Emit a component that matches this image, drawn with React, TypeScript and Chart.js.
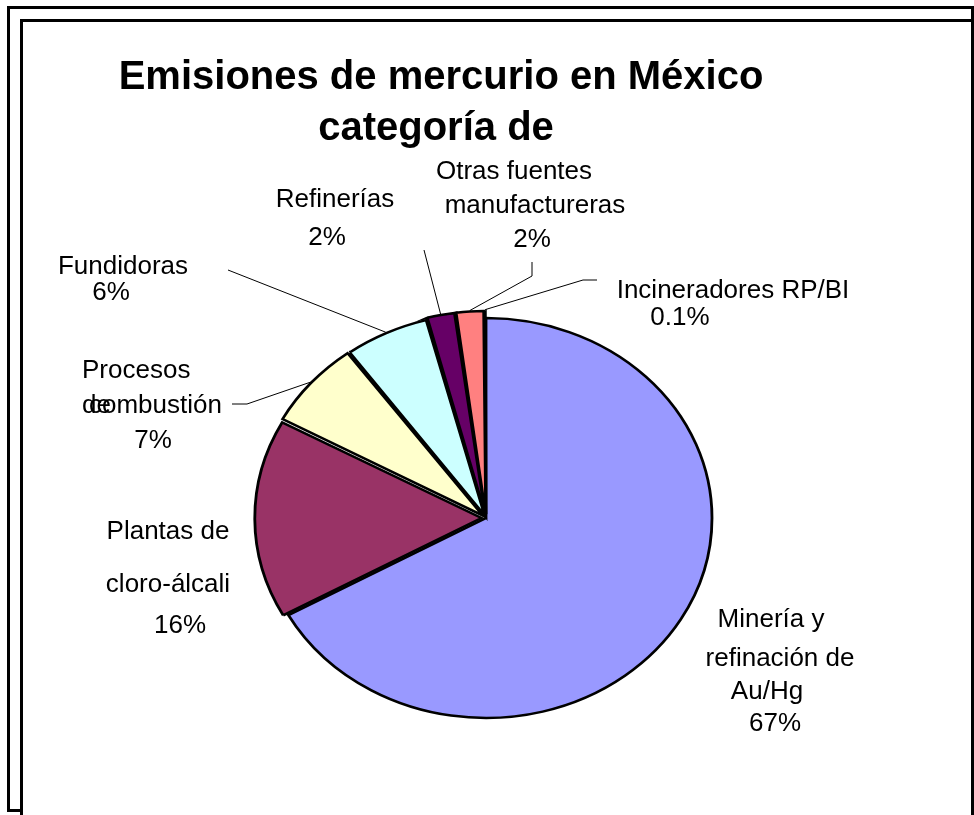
import { useEffect, useRef } from "react";
import { Chart, registerables } from "chart.js";

Chart.register(...registerables);

const categories = [
  "Minería y refinación de Au/Hg",
  "Plantas de cloro-álcali",
  "Procesos de combustión",
  "Fundidoras",
  "Refinerías",
  "Otras fuentes manufactureras",
  "Incineradores RP/BI",
];
const values = [67, 16, 7, 6, 2, 2, 0.1];
const percentLabels = ["67%", "16%", "7%", "6%", "2%", "2%", "0.1%"];
const labelLines = [
  ["Minería y", "refinación de", "Au/Hg"],
  ["Plantas de", "cloro-álcali"],
  ["Procesos", "de", "combustión"],
  ["Fundidoras"],
  ["Refinerías"],
  ["Otras fuentes", "manufactureras"],
  ["Incineradores RP/BI"],
];
const titleLines = ["Emisiones de mercurio en México", "categoría de"];

const colors = ["#9999FF", "#993366", "#FFFFCC", "#CCFFFF", "#660066", "#FF8080", "#0066CC"];
// explosion amount in pixels (Chart.js 4 draws arc offset / 4)
const explode = [0, 4, 3.5, 3, 3.7, 3.7, 3.7];

// layout of label text (x, baseline y, align) per line; last entry is the percentage
type Pos = [number, number, CanvasTextAlign];
const labelPos: Pos[][] = [
  [[771, 627, "center"], [780, 666, "center"], [767, 699, "center"], [775, 731, "center"]],
  [[168, 539, "center"], [168, 592, "center"], [180, 633, "center"]],
  [[82, 378, "left"], [82, 413, "left"], [89, 413, "left"], [153, 448, "center"]],
  [[123, 274, "center"], [111, 300, "center"]],
  [[335, 207, "center"], [327, 245, "center"]],
  [[514, 179, "center"], [535, 213, "center"], [532, 247, "center"]],
  [[733, 298, "center"], [680, 325, "center"]],
];
const leaderStarts: (number[][] | null)[] = [
  null,
  null,
  [[232, 404], [247, 404]],
  [[228, 270]],
  [[424, 250]],
  [[532, 262], [532, 276]],
  [[597, 280], [583, 280]],
];

const SX = 1.13;
const FONT = "'Liberation Sans', Arial, Helvetica, sans-serif";

const ellipsePlugin = {
  id: "ellipse",
  beforeDatasetsDraw(chart: any) {
    const a = chart.getDatasetMeta(0).data[0];
    const ctx = chart.ctx;
    ctx.save();
    ctx.translate(a.x, a.y);
    ctx.scale(SX, 1);
    ctx.translate(-a.x, -a.y);
  },
  afterDatasetsDraw(chart: any) {
    chart.ctx.restore();
  },
};

const labelPlugin = {
  id: "labels",
  afterDraw(chart: any) {
    const ctx: CanvasRenderingContext2D = chart.ctx;
    const meta = chart.getDatasetMeta(0);
    ctx.save();
    // title
    ctx.fillStyle = "#000";
    ctx.font = `bold 40px ${FONT}`;
    ctx.textAlign = "center";
    ctx.textBaseline = "alphabetic";
    ctx.fillText(titleLines[0], 441, 89);
    ctx.fillText(titleLines[1], 436, 140);

    // leader lines
    ctx.strokeStyle = "#000";
    ctx.lineWidth = 1;
    meta.data.forEach((arc: any, i: number) => {
      const starts = leaderStarts[i];
      if (!starts) return;
      const mid = (arc.startAngle + arc.endAngle) / 2;
      const circ = arc.endAngle - arc.startAngle;
      const fix = 1 - Math.sin(Math.min(Math.PI, circ));
      const r = arc.outerRadius + explode[i] * (1 + fix) + 1;
      const ex = arc.x + Math.cos(mid) * r * SX;
      const ey = arc.y + Math.sin(mid) * r;
      ctx.beginPath();
      ctx.moveTo(starts[0][0], starts[0][1]);
      for (let k = 1; k < starts.length; k++) ctx.lineTo(starts[k][0], starts[k][1]);
      ctx.lineTo(ex, ey);
      ctx.stroke();
    });

    // labels
    ctx.font = `26px ${FONT}`;
    labelLines.forEach((lines, i) => {
      const texts = [...lines, percentLabels[i]];
      texts.forEach((t, k) => {
        const p = labelPos[i][k];
        ctx.textAlign = p[2];
        ctx.fillText(t, p[0], p[1]);
      });
    });
    ctx.restore();
  },
};

export default function App() {
  const ref = useRef<HTMLCanvasElement>(null);
  useEffect(() => {
    if (!ref.current) return;
    const chart = new Chart(ref.current, {
      type: "pie",
      data: {
        labels: categories,
        datasets: [
          {
            data: values,
            backgroundColor: colors,
            borderColor: "#000",
            borderWidth: 2.5,
            borderJoinStyle: "miter",
            offset: explode.map((e) => e * 4),
          } as any,
        ],
      },
      options: {
        animation: false,
        responsive: false,
        events: [],
        radius: 200,
        layout: { padding: { left: 100, right: 102, top: 300, bottom: 79 } },
        plugins: {
          legend: { display: false },
          tooltip: { enabled: false },
          title: { display: false },
        },
      } as any,
      plugins: [ellipsePlugin, labelPlugin],
    });
    return () => chart.destroy();
  }, []);

  return (
    <div
      style={{
        position: "fixed",
        left: 0,
        top: 0,
        width: 974,
        height: 815,
        overflow: "hidden",
        background: "#fff",
      }}
    >
      <div
        style={{
          position: "absolute",
          left: 7,
          top: 6,
          width: 967,
          height: 806,
          border: "3px solid #000",
          boxSizing: "border-box",
        }}
      />
      <div
        style={{
          position: "absolute",
          left: 20,
          top: 19,
          width: 954,
          height: 830,
          border: "3px solid #000",
          boxSizing: "border-box",
          background: "#fff",
        }}
      />
      <canvas
        ref={ref}
        width={974}
        height={815}
        style={{ position: "absolute", left: 0, top: 0, width: 974, height: 815 }}
      />
    </div>
  );
}
